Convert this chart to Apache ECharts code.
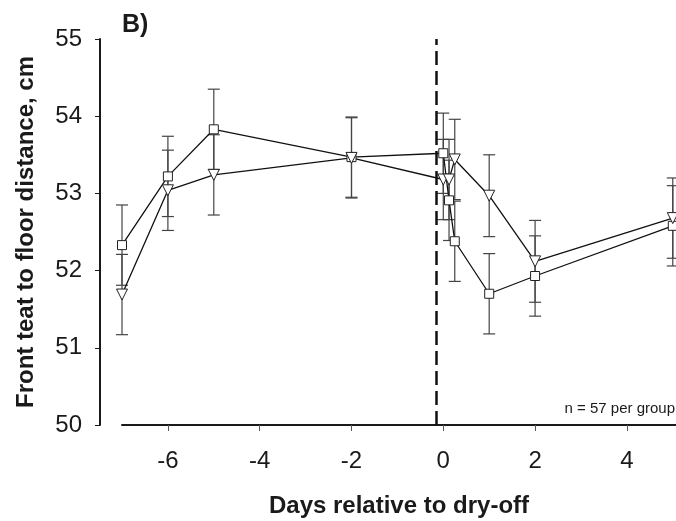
<!DOCTYPE html>
<html>
<head>
<meta charset="utf-8">
<script src="https://cdn.jsdelivr.net/npm/echarts@6/dist/echarts.min.js"></script>
<style>
  html, body { margin: 0; padding: 0; background: #fff; }
  #chart { width: 676px; height: 521px; }
</style>
</head>
<body>
<div id="chart"></div>
<script>
// Sampling times (days relative to dry-off)
const days = [-7, -6, -5, -2, 0, 0.125, 0.25, 1, 2, 5];

// Group 1 (open squares): means and standard errors, cm
const squareMeans = [52.33, 53.22, 53.83, 53.47, 53.52, 52.91, 52.38, 51.70, 51.93, 52.58];
const squareSE    = [0.52, 0.52, 0.52, 0.52, 0.52, 0.52, 0.52, 0.52, 0.52, 0.52];

// Group 2 (open inverted triangles): means and standard errors, cm
const triangleMeans = [51.69, 53.04, 53.24, 53.46, 53.18, 53.18, 53.44, 52.97, 52.12, 52.68];
const triangleSE    = [0.52, 0.52, 0.52, 0.52, 0.52, 0.52, 0.52, 0.53, 0.53, 0.52];

// Axis ticks
const xTicks = [-6, -4, -2, 0, 2, 4];
const yTicks = [50, 51, 52, 53, 54, 55];

// Dry-off reference line
const dryOffDay = -0.15;

const panelLabel = 'B)';
const groupNote = 'n = 57 per group';
const xTitle = 'Days relative to dry-off';
const yTitle = 'Front teat to floor distance, cm';

const FONT = '"Liberation Sans", Arial, Helvetica, sans-serif';
const INK = '#1a1a1a';

function errorBars(means, se) {
  return {
    type: 'custom',
    silent: true,
    clip: false,
    z: 1,
    data: days.map((d, i) => [d, means[i] - se[i], means[i] + se[i]]),
    encode: { x: 0, y: [1, 2] },
    renderItem(params, api) {
      const x = api.value(0);
      const lo = api.coord([x, api.value(1)]);
      const hi = api.coord([x, api.value(2)]);
      const hw = 6;
      const style = { stroke: '#444', lineWidth: 1.2, fill: null };
      return {
        type: 'group',
        children: [
          { type: 'line', shape: { x1: lo[0], y1: lo[1], x2: hi[0], y2: hi[1] }, style },
          { type: 'line', shape: { x1: lo[0] - hw, y1: lo[1], x2: lo[0] + hw, y2: lo[1] }, style },
          { type: 'line', shape: { x1: hi[0] - hw, y1: hi[1], x2: hi[0] + hw, y2: hi[1] }, style }
        ]
      };
    }
  };
}

function meanLine(means, symbol, size, rotate, extra) {
  return Object.assign({
    type: 'line',
    data: days.map((d, i) => [d, means[i]]),
    symbol: symbol,
    symbolSize: size,
    symbolRotate: rotate,
    showAllSymbol: true,
    z: 3,
    lineStyle: { color: '#111', width: 1.3 },
    itemStyle: { color: '#fff', borderColor: '#222', borderWidth: 1 },
    emphasis: { disabled: true }
  }, extra || {});
}

const chart = echarts.init(document.getElementById('chart'), null, { renderer: 'canvas' });

chart.setOption({
  animation: false,
  backgroundColor: '#fff',
  grid: { left: 122, right: 0, top: 39, bottom: 96, containLabel: false, outerBoundsMode: 'none' },
  xAxis: {
    type: 'value',
    min: -7,
    max: 5.07,
    splitLine: { show: false },
    axisLine: { show: true, onZero: false, lineStyle: { color: INK, width: 2 } },
    axisTick: { show: true, length: 6, customValues: xTicks, lineStyle: { color: '#555', width: 1 } },
    axisLabel: { customValues: xTicks, fontSize: 24, color: INK, fontFamily: FONT, margin: 24 },
    name: xTitle,
    nameLocation: 'middle',
    nameGap: 69,
    nameTextStyle: { fontSize: 24, fontWeight: 'bold', color: INK, fontFamily: FONT }
  },
  yAxis: {
    type: 'value',
    min: yTicks[0],
    max: yTicks[yTicks.length - 1],
    interval: 1,
    offset: 22,
    splitLine: { show: false },
    axisLine: { show: true, onZero: false, lineStyle: { color: INK, width: 2 } },
    axisTick: { show: true, length: 5, lineStyle: { color: INK, width: 1 } },
    axisLabel: { fontSize: 24, color: INK, fontFamily: FONT, margin: 18 },
    name: yTitle,
    nameLocation: 'middle',
    nameGap: 62,
    nameTextStyle: { fontSize: 24, fontWeight: 'bold', color: INK, fontFamily: FONT }
  },
  series: [
    errorBars(squareMeans, squareSE),
    errorBars(triangleMeans, triangleSE),
    meanLine(squareMeans, 'rect', 9, 0, {
      markLine: {
        silent: true,
        symbol: 'none',
        label: { show: false },
        lineStyle: { type: [14, 6], width: 2.5, color: '#111' },
        data: [{ xAxis: dryOffDay }]
      }
    }),
    meanLine(triangleMeans, 'triangle', 11, 180)
  ],
  graphic: [
    {
      type: 'text',
      left: 122,
      top: 13,
      style: { text: panelLabel, font: 'bold 25px ' + FONT, fill: INK }
    },
    {
      type: 'text',
      right: 1,
      top: 401,
      style: { text: groupNote, font: '15px ' + FONT, fill: INK }
    }
  ]
});
</script>
</body>
</html>
